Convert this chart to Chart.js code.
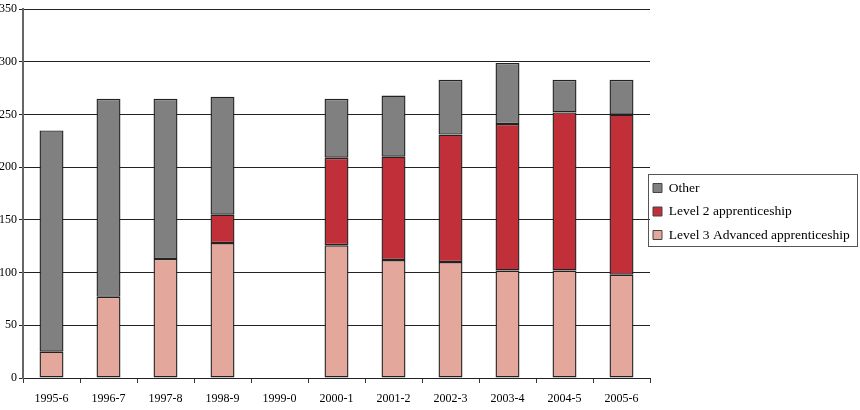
<!DOCTYPE html>
<html lang="en">
<head>
    <meta charset="UTF-8">
    <title>Apprenticeships</title>
    <script src="https://cdn.jsdelivr.net/npm/chart.js"></script>
    <style>
        html, body { margin: 0; padding: 0; background: #fff; }
        #wrap { width: 860px; height: 410px; }
    </style>
</head>
<body>
    <div id="wrap"><canvas id="chart" width="860" height="410"></canvas></div>

    <script>
        const years = ["1995-6", "1996-7", "1997-8", "1998-9", "1999-0", "2000-1",
                       "2001-2", "2002-3", "2003-4", "2004-5", "2005-6"];
        const level3 = [25, 77, 113, 128, null, 126, 112, 110, 102, 102, 98];
        const level2 = [0, 0, 0, 27, null, 83, 98, 121, 139, 150, 152];
        const other = [210, 188, 152, 112, null, 56, 58, 52, 58, 31, 33];
        const yTicks = [0, 50, 100, 150, 200, 250, 300, 350];

        const serif = "'Liberation Serif', 'DejaVu Serif', serif";

        // nudge the legend a little and frame it, like the original
        const legendFrame = {
            id: "legendFrame",
            afterLayout(chart) {
                if (!chart.legend) return;
                chart.legend.top += 12;
                chart.legend.left -= 7;
            },
            afterDraw(chart) {
                const lg = chart.legend;
                if (!lg || !lg.legendHitBoxes || !lg.legendHitBoxes.length) return;
                const boxes = lg.legendHitBoxes;
                const top = Math.min(...boxes.map(b => b.top)) - 7;
                const bottom = Math.max(...boxes.map(b => b.top + b.height)) + 4;
                const left = chart.chartArea.right - 2;
                const right = 857;
                const ctx = chart.ctx;
                ctx.save();
                ctx.strokeStyle = "#555";
                ctx.lineWidth = 1;
                ctx.strokeRect(Math.round(left) + 0.5, Math.round(top) + 0.5,
                               Math.round(right - left), Math.round(bottom - top));
                ctx.restore();
            }
        };

        const bar = (label, data, color) => ({
            label: label,
            data: data,
            backgroundColor: color,
            borderColor: "#222",
            borderWidth: 1.4,
            borderSkipped: false,
            categoryPercentage: 1,
            barPercentage: 0.42
        });

        new Chart(document.getElementById("chart"), {
            type: "bar",
            data: {
                labels: years,
                datasets: [
                    bar("Level 3 Advanced apprenticeship", level3, "#e3a79c"),
                    bar("Level 2 apprenticeship", level2, "#c12f39"),
                    bar("Other", other, "#808080")
                ]
            },
            options: {
                responsive: false,
                animation: false,
                layout: { padding: { top: 1, left: 0, right: 0, bottom: 0 } },
                plugins: {
                    tooltip: { enabled: false },
                    legend: {
                        position: "right",
                        reverse: true,
                        maxWidth: 210,
                        labels: {
                            font: { family: serif, size: 13.5 },
                            color: "#000",
                            boxWidth: 9,
                            boxHeight: 9,
                            padding: 10,
                            generateLabels(chart) {
                                const items = Chart.defaults.plugins.legend.labels.generateLabels(chart);
                                items.forEach(it => { it.lineWidth = 1; it.strokeStyle = "#444"; });
                                return items;
                            }
                        }
                    }
                },
                scales: {
                    x: {
                        stacked: true,
                        afterFit(axis) {
                            axis.height = 32;
                        },
                        grid: {
                            offset: true,
                            drawOnChartArea: false,
                            drawTicks: true,
                            tickLength: 5,
                            color: "#333"
                        },
                        border: { color: "#222", width: 1 },
                        ticks: {
                            font: { family: serif, size: 12 },
                            color: "#000",
                            maxRotation: 0,
                            padding: 9
                        }
                    },
                    y: {
                        stacked: true,
                        min: 0,
                        max: 350,
                        afterBuildTicks(axis) {
                            axis.ticks = yTicks.map(v => ({ value: v }));
                        },
                        afterFit(axis) {
                            axis.width = 23;
                        },
                        grid: {
                            color: "#222",
                            tickLength: 4
                        },
                        border: { color: "#666", width: 2 },
                        ticks: {
                            font: { family: serif, size: 12 },
                            color: "#000",
                            padding: 2
                        }
                    }
                }
            },
            plugins: [legendFrame]
        });
    </script>
</body>
</html>
